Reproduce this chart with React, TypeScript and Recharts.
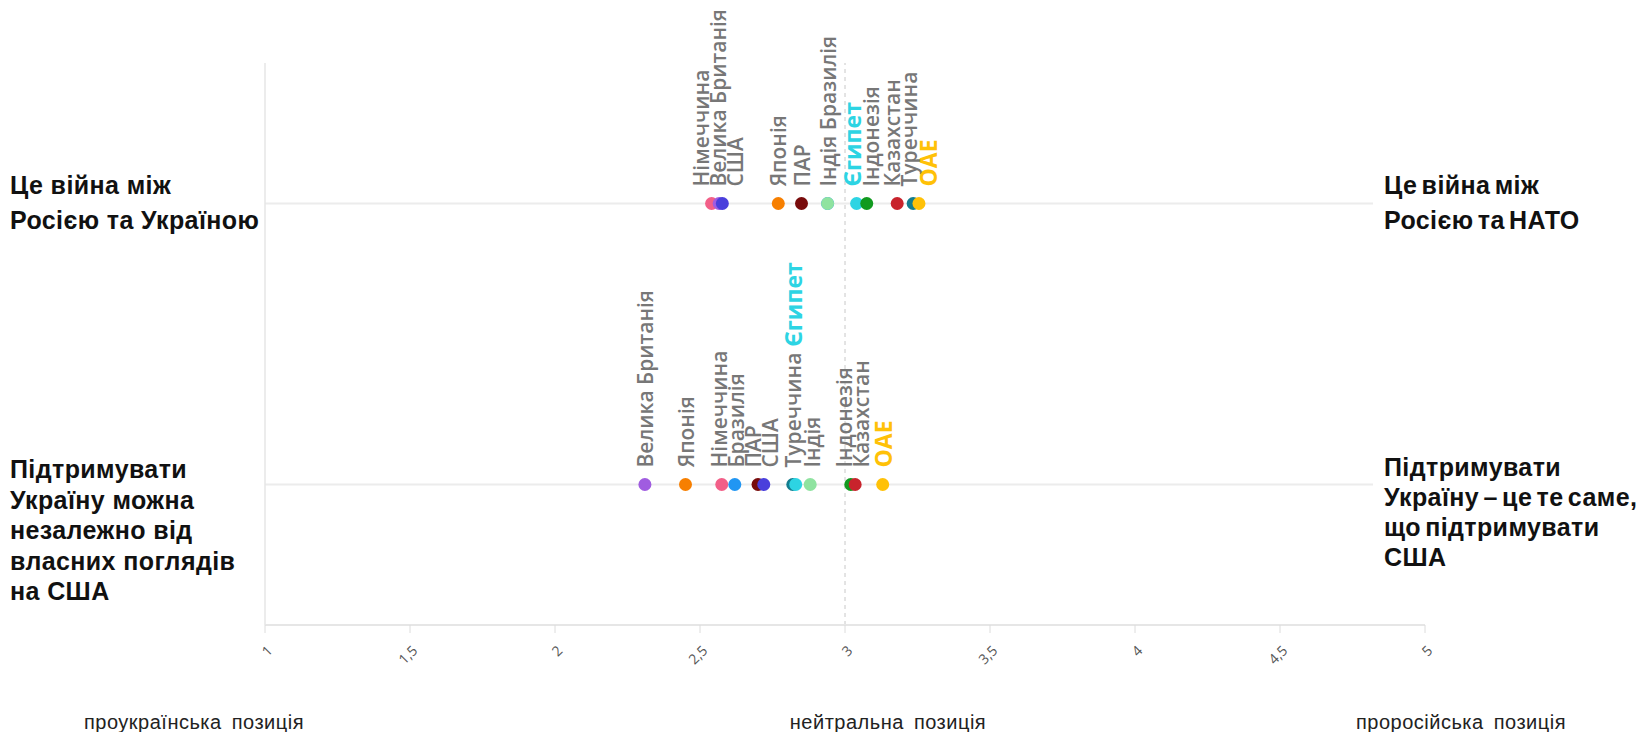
import {
  ReferenceLine,
  Scatter,
  ScatterChart,
  XAxis,
  YAxis,
} from 'recharts'

const countries = [
  'Німеччина',
  'Велика Британія',
  'США',
  'Японія',
  'ПАР',
  'Бразилія',
  'Індія',
  'Єгипет',
  'Індонезія',
  'Казахстан',
  'Туреччина',
  'ОАЕ',
]

const countryColors = [
  '#f25f88',
  '#a05ce0',
  '#4a3fdc',
  '#f77f00',
  '#780b0b',
  '#2196f3',
  '#8fe3a0',
  '#2dd4e3',
  '#119a1f',
  '#c8232c',
  '#137c8e',
  '#ffc107',
]

// "Це війна між Росією та Україною" (1) ... "між Росією та НАТО" (5)
const warValues = [2.54, 2.566, 2.577, 2.77, 2.85, 2.94, 2.94, 3.04, 3.075, 3.18, 3.235, 3.255]
// "Підтримувати Україну можна незалежно..." (1) ... "це те саме, що підтримувати США" (5)
const supportValues = [2.575, 2.31, 2.72, 2.45, 2.7, 2.62, 2.88, 2.83, 3.02, 3.035, 2.82, 3.13]

const highlighted = ['Єгипет', 'ОАЕ']
const warJoined = [['Індія', 'Бразилія']]
const supportJoined = [['Туреччина', 'Єгипет']]

const xTicks = [1, 1.5, 2, 2.5, 3, 3.5, 4, 4.5, 5]

const warLeft = ['Це війна між', 'Росією та Україною']
const warRight = ['Це війна між', 'Росією та НАТО']
const supportLeft = ['Підтримувати', 'Україну можна', 'незалежно від', 'власних поглядів', 'на США']
const supportRight = ['Підтримувати', 'Україну – це те саме,', 'що підтримувати', 'США']
const scaleCaptions = ['проукраїнська позиція', 'нейтральна позиція', 'проросійська позиція']

const WIDTH = 1645
const HEIGHT = 732
const PLOT_LEFT = 265
const PLOT_RIGHT = 1425
const PLOT_TOP = 63
const PLOT_BOTTOM = 625
const X_MIN = 1
const X_MAX = 5
const WAR_ROW = 3
const SUPPORT_ROW = 1

const LABEL_GRAY = '#777'

interface Point {
  name: string
  x: number
  y: number
  color: string
  labelParts: string[]
  labelOffset: number
}

function toPx(v: number) {
  return PLOT_LEFT + ((v - X_MIN) / (X_MAX - X_MIN)) * (PLOT_RIGHT - PLOT_LEFT)
}

// spreads the vertical labels apart so neighbouring ones don't overlap
function buildRow(values: number[], row: number, joined: string[][]): Point[] {
  const points: Point[] = countries.map((name, i) => ({
    name,
    x: values[i],
    y: row,
    color: countryColors[i],
    labelParts: [],
    labelOffset: 0,
  }))

  const groups: { owner: Point; parts: string[]; px: number; w: number }[] = []
  const taken = new Set<string>()
  joined.forEach((names) => {
    const members = names.map((n) => points.find((p) => p.name === n)!)
    const px = members.reduce((s, m) => s + toPx(m.x), 0) / members.length
    names.forEach((n) => taken.add(n))
    groups.push({
      owner: members[0],
      parts: names,
      px,
      w: names.some((n) => highlighted.includes(n)) ? 21 : 17,
    })
  })
  points.forEach((p) => {
    if (!taken.has(p.name)) {
      groups.push({ owner: p, parts: [p.name], px: toPx(p.x), w: highlighted.includes(p.name) ? 21 : 17 })
    }
  })
  groups.sort((a, b) => a.px - b.px)
  const pos = groups.map((g) => g.px)
  for (let iter = 0; iter < 300; iter++) {
    for (let i = 1; i < pos.length; i++) {
      const need = (groups[i - 1].w + groups[i].w) / 2
      const gap = pos[i] - pos[i - 1]
      if (gap < need) {
        const shift = (need - gap) / 2
        pos[i - 1] -= shift
        pos[i] += shift
      }
    }
  }
  groups.forEach((g, i) => {
    g.owner.labelParts = g.parts
    g.owner.labelOffset = pos[i] - toPx(g.owner.x)
  })

  return points
    .map((p, i) => ({ p, i }))
    .sort((a, b) => a.p.x - b.p.x || a.i - b.i)
    .map((d) => d.p)
}

const warData = buildRow(warValues, WAR_ROW, warJoined)
const supportData = buildRow(supportValues, SUPPORT_ROW, supportJoined)

function colorOf(name: string) {
  return countryColors[countries.indexOf(name)]
}

function DotShape(props: any) {
  const { cx, cy, payload } = props
  const p = payload as Point
  const lx = cx + p.labelOffset
  const ly = cy - 17
  return (
    <g>
      <circle cx={cx} cy={cy} r={6.5} fill={p.color} />
      {p.labelParts.length > 0 && (
        <text
          x={lx}
          y={ly}
          transform={`rotate(-90 ${lx} ${ly})`}
          textAnchor="start"
          dominantBaseline="central"
          fontFamily="'Open Sans', sans-serif"
        >
          {p.labelParts.map((n, k) => {
            const hl = highlighted.includes(n)
            return (
              <tspan
                key={n}
                fill={hl ? colorOf(n) : LABEL_GRAY}
                fontSize={hl ? 23 : 21}
                fontWeight={hl ? 700 : 600}
              >
                {(k > 0 ? ' ' : '') + n}
              </tspan>
            )
          })}
        </text>
      )}
    </g>
  )
}

function AxisTick(props: any) {
  const { x, y, payload } = props
  return (
    <g transform={`translate(${x},${y + 2})`}>
      <text
        x={0}
        y={0}
        dy={12}
        textAnchor="end"
        transform="rotate(-45)"
        fontSize={14}
        fill="#555"
        fontFamily="'Open Sans', sans-serif"
      >
        {String(payload.value).replace('.', ',')}
      </text>
    </g>
  )
}

const sideStyle = {
  position: 'absolute' as const,
  fontFamily: "'Liberation Sans', Arial, sans-serif",
  fontWeight: 700,
  fontSize: 25,
  letterSpacing: 0.4,
  color: '#111',
  whiteSpace: 'nowrap' as const,
}

function SideLabel({ lines, left, top, lineHeight, cover }: {
  lines: string[]
  left: number
  top: number
  lineHeight: number
  cover?: boolean
}) {
  return (
    <div
      style={{
        ...sideStyle,
        left: cover ? left - 11 : left,
        top,
        lineHeight: `${lineHeight}px`,
        paddingLeft: cover ? 11 : 0,
        background: cover ? '#fff' : 'transparent',
        wordSpacing: cover ? -3 : 0,
      }}
    >
      {lines.map((l) => (
        <div key={l}>{l}</div>
      ))}
    </div>
  )
}

export default function App() {
  const captionCenter = [194, 888, 1461]
  return (
    <div style={{ position: 'relative', width: WIDTH, height: HEIGHT, overflow: 'hidden', background: '#fff' }}>
      <style>{'body{margin:0}'}</style>
      <ScatterChart
        width={WIDTH}
        height={HEIGHT}
        margin={{ top: PLOT_TOP, right: WIDTH - PLOT_RIGHT, bottom: 0, left: 0 }}
      >
        <XAxis
          type="number"
          dataKey="x"
          domain={[X_MIN, X_MAX]}
          ticks={xTicks}
          height={HEIGHT - PLOT_BOTTOM}
          axisLine={{ stroke: '#e6e6e6', strokeWidth: 2 }}
          tickLine={{ stroke: '#dcdcdc' }}
          tickSize={8}
          tickMargin={8}
          tick={<AxisTick />}
          interval={0}
        />
        <YAxis
          type="number"
          dataKey="y"
          domain={[0, 4]}
          width={PLOT_LEFT}
          tick={false}
          tickLine={false}
          axisLine={{ stroke: '#e6e6e6', strokeWidth: 1.5 }}
        />
        <ReferenceLine y={WAR_ROW} stroke="#ececec" strokeWidth={2} />
        <ReferenceLine y={SUPPORT_ROW} stroke="#ececec" strokeWidth={2} />
        <ReferenceLine x={3} stroke="#c8c8c8" strokeDasharray="4 4" />
        <Scatter data={warData} shape={<DotShape />} isAnimationActive={false} />
        <Scatter data={supportData} shape={<DotShape />} isAnimationActive={false} />
      </ScatterChart>

      <SideLabel lines={warLeft} left={10} top={168} lineHeight={35} />
      <SideLabel lines={warRight} left={1384} top={168} lineHeight={35} cover />
      <SideLabel lines={supportLeft} left={10} top={454} lineHeight={30.5} />
      <SideLabel lines={supportRight} left={1384} top={452} lineHeight={30} cover />

      {scaleCaptions.map((c, i) => (
        <div
          key={c}
          style={{
            position: 'absolute',
            left: captionCenter[i],
            top: 710,
            transform: 'translateX(-50%)',
            lineHeight: '24px',
            fontFamily: "'Liberation Sans', Arial, sans-serif",
            fontSize: 20,
            letterSpacing: 0.5,
            color: '#222',
            wordSpacing: 4,
            whiteSpace: 'nowrap',
          }}
        >
          {c}
        </div>
      ))}
    </div>
  )
}
